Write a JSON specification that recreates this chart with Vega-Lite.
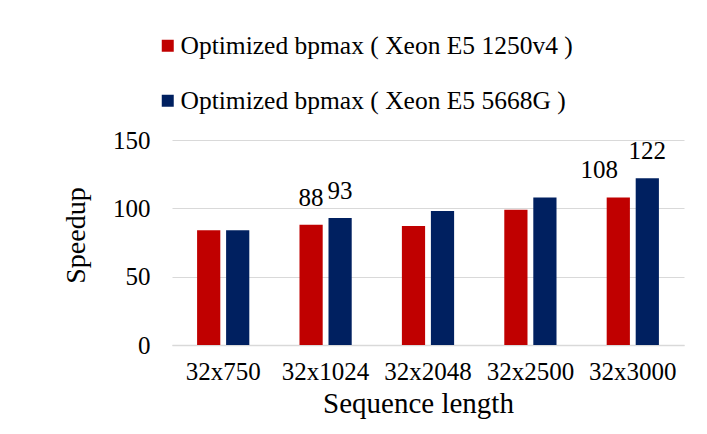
{
  "$schema": "https://vega.github.io/schema/vega-lite/v6.json",
  "autosize": {"type": "none"},
  "width": 512,
  "height": 205,
  "padding": {"left": 172, "top": 140, "right": 23, "bottom": 89},
  "background": "white",
  "config": {
    "font": "Liberation Serif",
    "view": {"stroke": null},
    "axis": {"labelFont": "Liberation Serif", "titleFont": "Liberation Serif"},
    "legend": {"labelFont": "Liberation Serif", "titleFont": "Liberation Serif"},
    "text": {"font": "Liberation Serif"}
  },
  "data": {
    "values": [
      {"length": "32x750", "series": "Optimized bpmax ( Xeon E5 1250v4 )", "speedup": 84, "label": null},
      {"length": "32x750", "series": "Optimized bpmax ( Xeon E5 5668G )", "speedup": 84, "label": null},
      {"length": "32x1024", "series": "Optimized bpmax ( Xeon E5 1250v4 )", "speedup": 88, "label": "88"},
      {"length": "32x1024", "series": "Optimized bpmax ( Xeon E5 5668G )", "speedup": 93, "label": "93"},
      {"length": "32x2048", "series": "Optimized bpmax ( Xeon E5 1250v4 )", "speedup": 87, "label": null},
      {"length": "32x2048", "series": "Optimized bpmax ( Xeon E5 5668G )", "speedup": 98, "label": null},
      {"length": "32x2500", "series": "Optimized bpmax ( Xeon E5 1250v4 )", "speedup": 99, "label": null},
      {"length": "32x2500", "series": "Optimized bpmax ( Xeon E5 5668G )", "speedup": 108, "label": null},
      {"length": "32x3000", "series": "Optimized bpmax ( Xeon E5 1250v4 )", "speedup": 108, "label": "108"},
      {"length": "32x3000", "series": "Optimized bpmax ( Xeon E5 5668G )", "speedup": 122, "label": "122"}
    ]
  },
  "encoding": {
    "x": {
      "field": "length",
      "type": "nominal",
      "sort": ["32x750", "32x1024", "32x2048", "32x2500", "32x3000"],
      "scale": {"paddingInner": 0.49, "paddingOuter": 0.245},
      "title": "Sequence length",
      "axis": {
        "labelAngle": 0,
        "labelFont": "Liberation Serif",
        "labelFontSize": 25,
        "labelColor": "black",
        "labelPadding": 14,
        "tickSize": 0,
        "domainColor": "#D9D9D9",
        "domainWidth": 1.5,
        "titleFont": "Liberation Serif",
        "titleFontSize": 29,
        "titleFontWeight": "normal",
        "titleColor": "black",
        "titlePadding": 5,
        "titleX": 246
      }
    },
    "y": {
      "field": "speedup",
      "type": "quantitative",
      "scale": {"domain": [0, 150]},
      "title": "Speedup",
      "axis": {
        "values": [0, 50, 100, 150],
        "labelFont": "Liberation Serif",
        "labelFontSize": 25,
        "labelColor": "black",
        "labelPadding": 22,
        "tickSize": 0,
        "domain": false,
        "gridColor": "#D9D9D9",
        "titleFont": "Liberation Serif",
        "titleFontSize": 28,
        "titleFontWeight": "normal",
        "titleColor": "black",
        "titlePadding": 22,
        "titleY": 95
      }
    },
    "xOffset": {
      "field": "series",
      "type": "nominal",
      "sort": ["Optimized bpmax ( Xeon E5 1250v4 )", "Optimized bpmax ( Xeon E5 5668G )"],
      "scale": {"paddingInner": 0.2}
    }
  },
  "layer": [
    {
      "mark": {"type": "bar"},
      "encoding": {
        "color": {
          "field": "series",
          "type": "nominal",
          "sort": ["Optimized bpmax ( Xeon E5 1250v4 )", "Optimized bpmax ( Xeon E5 5668G )"],
          "scale": {"range": ["#C00000", "#002060"]},
          "legend": {
            "title": null,
            "orient": "none",
            "legendX": -17,
            "legendY": -107,
            "symbolType": "square",
            "symbolSize": 144,
            "symbolStrokeWidth": 0,
            "labelFont": "Liberation Serif",
            "labelFontSize": 25.5,
            "labelColor": "black",
            "labelOffset": 0,
            "rowPadding": 28,
            "labelLimit": 600,
            "padding": 0
          }
        }
      }
    },
    {
      "transform": [{"filter": "datum.label != null && datum.label != '108'"}],
      "mark": {"type": "text", "font": "Liberation Serif", "baseline": "bottom", "dy": -14, "fontSize": 25, "color": "black"},
      "encoding": {"text": {"field": "label"}}
    },
    {
      "transform": [{"filter": "datum.label == '108'"}],
      "mark": {"type": "text", "font": "Liberation Serif", "baseline": "bottom", "dy": -14, "dx": -19, "fontSize": 25, "color": "black"},
      "encoding": {"text": {"field": "label"}}
    }
  ]
}
